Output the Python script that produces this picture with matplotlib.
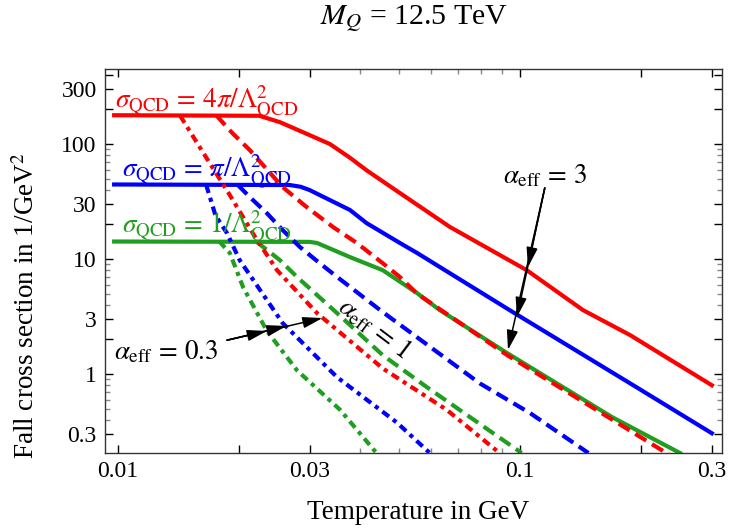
import numpy as np
import matplotlib
matplotlib.use("Agg")
import matplotlib.pyplot as plt
from matplotlib.ticker import FixedLocator, FixedFormatter, NullFormatter

plt.rcParams['font.family'] = ['Liberation Serif', 'DejaVu Serif']
plt.rcParams['mathtext.fontset'] = 'stix'

# temperatures (GeV) and fall cross sections (1/GeV^2)
# solid: alpha_eff = 3, dashed: alpha_eff = 1, dash-dot: alpha_eff = 0.3
T_red_3 = [0.0098, 0.0225, 0.0253, 0.0284, 0.0337, 0.0378, 0.0416, 0.0503, 0.067, 0.104, 0.1435, 0.188, 0.3]
S_red_3 = [178, 176, 155, 130, 100, 76, 59, 37.5, 19, 8.0, 3.6, 2.18, 0.80]
T_red_1 = [0.0176, 0.0193, 0.0213, 0.0257, 0.0295, 0.0343, 0.0393, 0.0456, 0.0503, 0.0555, 0.093, 0.170, 0.24]
S_red_1 = [177, 124, 88.6, 42.3, 28.3, 19.0, 13.8, 9.2, 6.98, 5.0, 1.46, 0.40, 0.19]
T_red_03 = [0.0143, 0.01646, 0.019, 0.0219, 0.0249, 0.0313, 0.0456, 0.0657, 0.089]
S_red_03 = [176, 80, 36, 15.8, 8.0, 3.39, 1.12, 0.49, 0.206]

T_blue_3 = [0.0098, 0.0268, 0.0285, 0.030, 0.0378, 0.0416, 0.0503, 0.0555, 0.096, 0.188, 0.3]
S_blue_3 = [44.5, 44, 42.5, 39.8, 26.7, 20.5, 13.8, 11.3, 3.46, 0.83, 0.306]
T_blue_1 = [0.0199, 0.0213, 0.0235, 0.0257, 0.0284, 0.0318, 0.0351, 0.0456, 0.0795, 0.106, 0.148]
S_blue_1 = [44, 34.6, 25, 17.9, 12.7, 9.2, 7.0, 3.46, 0.83, 0.458, 0.206]
T_blue_03 = [0.0166, 0.0175, 0.0187, 0.0201, 0.0257, 0.0351, 0.0494, 0.0597]
S_blue_03 = [44, 24, 16.8, 9.8, 2.78, 0.94, 0.38, 0.206]

T_green_3 = [0.0098, 0.030, 0.0313, 0.0378, 0.0456, 0.0555, 0.0632, 0.093, 0.170, 0.25]
S_green_3 = [14.2, 14.1, 13.8, 10.4, 8.0, 5.06, 3.6, 1.52, 0.42, 0.206]
T_green_1 = [0.0221, 0.0253, 0.0279, 0.0351, 0.0456, 0.0587, 0.101]
S_green_1 = [14.2, 9.8, 7.0, 3.39, 1.46, 0.77, 0.206]
T_green_03 = [0.0179, 0.019, 0.0205, 0.0235, 0.0279, 0.0357, 0.044]
S_green_03 = [14.2, 11.3, 5.7, 2.37, 1.08, 0.49, 0.206]

x_major = [0.01, 0.02, 0.03, 0.1, 0.2, 0.3]
x_major_labels = ['0.01', '', '0.03', '0.1', '', '0.3']
x_minor = [0.04, 0.05, 0.06, 0.07, 0.08, 0.09]
y_major = [0.3, 1, 2, 3, 10, 20, 30, 100, 200, 300, 400]
y_major_labels = ['0.3', '1', '', '3', '10', '', '30', '100', '', '300', '']
y_minor = [0.4, 0.5, 0.6, 0.7, 0.8, 0.9, 4, 5, 6, 7, 8, 9, 40, 50, 60, 70, 80, 90]

RED, BLUE, GREEN = '#ff0000', '#0000ff', '#1f9e1f'
lw = 3.0
ls_1 = (0, (3.1, 1.6))
ls_03 = (0, (2.0, 1.2, 1.0, 1.2))

fig = plt.figure(figsize=(7.31, 5.31), dpi=100)
ax = fig.add_axes([105/731, 78/531, 617/731, 384/531])

ax.plot(T_red_3, S_red_3, color=RED, lw=lw)
ax.plot(T_blue_3, S_blue_3, color=BLUE, lw=lw)
ax.plot(T_green_3, S_green_3, color=GREEN, lw=lw)
ax.plot(T_red_1, S_red_1, color=RED, lw=lw, ls=ls_1)
ax.plot(T_blue_1, S_blue_1, color=BLUE, lw=lw, ls=ls_1)
ax.plot(T_green_1, S_green_1, color=GREEN, lw=lw, ls=ls_1)
ax.plot(T_red_03, S_red_03, color=RED, lw=lw, ls=ls_03)
ax.plot(T_blue_03, S_blue_03, color=BLUE, lw=lw, ls=ls_03)
ax.plot(T_green_03, S_green_03, color=GREEN, lw=lw, ls=ls_03)

ax.set_xscale('log')
ax.set_yscale('log')
ax.set_xlim(0.0093, 0.318)
ax.set_ylim(0.206, 449)

ax.xaxis.set_major_locator(FixedLocator(x_major))
ax.xaxis.set_major_formatter(FixedFormatter(x_major_labels))
ax.xaxis.set_minor_locator(FixedLocator(x_minor))
ax.xaxis.set_minor_formatter(NullFormatter())
ax.yaxis.set_major_locator(FixedLocator(y_major))
ax.yaxis.set_major_formatter(FixedFormatter(y_major_labels))
ax.yaxis.set_minor_locator(FixedLocator(y_minor))
ax.yaxis.set_minor_formatter(NullFormatter())
ax.tick_params(which='both', direction='in', top=True, right=True, labelsize=17)
ax.tick_params(which='major', length=6, width=1, pad=6)
ax.tick_params(which='minor', length=3.5, width=1, color='#888888')
for s in ax.spines.values():
    s.set_linewidth(1)
    s.set_color('#333333')

ax.set_xlabel('Temperature in GeV', fontsize=19.5, va='center')
ax.xaxis.set_label_coords(0.507, -0.156)
ax.set_ylabel('Fall cross section in 1/GeV$^2$', fontsize=19.5, va='center')
ax.yaxis.set_label_coords(-0.127, 0.383)
fig.text(414/731, 1 - 25/531, '$M_Q$ = 12.5 TeV', fontsize=21.5, ha='center', va='baseline')

ax.text(0.00983, 206, r'$\sigma_{\rm QCD}\,=\,4\pi/\Lambda^2_{\rm QCD}$', color=RED, fontsize=19.5, va='baseline')
ax.text(0.01023, 51.6, r'$\sigma_{\rm QCD}\,=\,\pi/\Lambda^2_{\rm QCD}$', color=BLUE, fontsize=19.5, va='baseline')
ax.text(0.01023, 16.8, r'$\sigma_{\rm QCD}\,=\,1/\Lambda^2_{\rm QCD}$', color=GREEN, fontsize=19.5, va='baseline')

ax.text(0.1153, 52.7, r'$\alpha_{\rm eff}\,=\,3$', fontsize=19.5, ha='center', va='center')
ax.text(0.0132, 1.55, r'$\alpha_{\rm eff}\,=\,0.3$', fontsize=19.5, ha='center', va='center')
ax.text(0.0435, 2.51, r'$\alpha_{\rm eff}\,=\,1$', fontsize=19.5, ha='center', va='center',
        rotation=-37, rotation_mode='anchor')

arrow = dict(arrowstyle='-|>,head_length=0.6,head_width=0.17', color='black', lw=1.1,
             shrinkA=0, shrinkB=0, mutation_scale=20)
for tx, ty in [(0.1047, 8.5), (0.0983, 3.13), (0.0934, 1.62)]:
    ax.annotate('', xy=(tx, ty), xytext=(0.1153, 41.5), arrowprops=arrow)
for tx, ty in [(0.0235, 2.37), (0.0263, 2.62), (0.0323, 3.07)]:
    ax.annotate('', xy=(tx, ty), xytext=(0.0187, 1.97), arrowprops=arrow)

fig.savefig('out.png', dpi=100)
